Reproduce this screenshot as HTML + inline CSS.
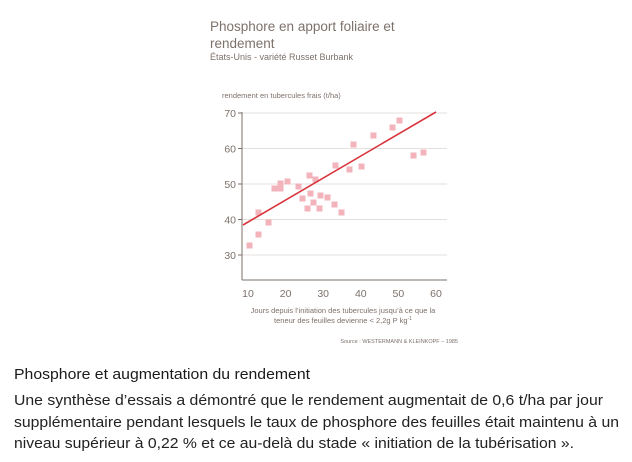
<!DOCTYPE html>
<html><head><meta charset="utf-8"><style>
html,body{margin:0;padding:0;background:#fff;width:632px;height:462px;overflow:hidden}
</style></head><body>
<svg width="632" height="462" viewBox="0 0 632 462" xmlns="http://www.w3.org/2000/svg" font-family="Liberation Sans, sans-serif">
<text x="210" y="31" font-size="13.5" fill="#7d716b">Phosphore en apport foliaire et</text>
<text x="210" y="48" font-size="13.5" fill="#7d716b">rendement</text>
<text x="210" y="60" font-size="9" fill="#7d716b">États-Unis - variété Russet Burbank</text>
<text x="222" y="98" font-size="7.5" fill="#7d716b">rendement en tubercules frais (t/ha)</text>
<g stroke="#e4e0de" stroke-width="1">
<line x1="242" y1="113" x2="447" y2="113"/><line x1="242" y1="148.5" x2="447" y2="148.5"/>
<line x1="242" y1="184" x2="447" y2="184"/><line x1="242" y1="219.5" x2="447" y2="219.5"/>
<line x1="242" y1="255" x2="447" y2="255"/>
</g>
<g stroke="#7d716b" stroke-width="1">
<line x1="242" y1="112" x2="242" y2="280"/><line x1="242" y1="280" x2="447" y2="280"/>
<line x1="238" y1="113" x2="242" y2="113"/><line x1="238" y1="148.5" x2="242" y2="148.5"/>
<line x1="238" y1="184" x2="242" y2="184"/><line x1="238" y1="219.5" x2="242" y2="219.5"/>
<line x1="238" y1="255" x2="242" y2="255"/>
</g>
<g font-size="10.5" fill="#7d716b" text-anchor="end">
<text x="236" y="117">70</text><text x="236" y="152.5">60</text><text x="236" y="188">50</text><text x="236" y="223.5">40</text><text x="236" y="259">30</text>
</g>
<g font-size="10.5" fill="#7d716b" text-anchor="middle">
<text x="248" y="297">10</text><text x="285.6" y="297">20</text><text x="323.2" y="297">30</text><text x="360.8" y="297">40</text><text x="398.4" y="297">50</text><text x="436" y="297">60</text>
</g>
<text x="343" y="313" font-size="7.5" fill="#7d716b" text-anchor="middle">Jours depuis l’initiation des tubercules jusqu’à ce que la</text>
<text x="343" y="323" font-size="7.5" fill="#7d716b" text-anchor="middle">teneur des feuilles devienne &lt; 2,2g P kg<tspan font-size="5" dy="-3">-1</tspan></text>
<text x="458" y="343" font-size="5.5" fill="#7d716b" text-anchor="end">Source : WESTERMANN &amp; KLEINKOPF – 1985</text>
<g fill="#f2b3bb">
<rect x="246.5" y="242.5" width="6" height="6"/><rect x="255.5" y="231.5" width="6" height="6"/><rect x="255.5" y="209.5" width="6" height="6"/><rect x="265.5" y="219.5" width="6" height="6"/><rect x="271.5" y="185.5" width="6" height="6"/><rect x="277.5" y="180.5" width="6" height="6"/><rect x="277.5" y="185.5" width="6" height="6"/><rect x="284.5" y="178.5" width="6" height="6"/><rect x="295.5" y="183.5" width="6" height="6"/><rect x="299.5" y="195.5" width="6" height="6"/><rect x="304.5" y="205.5" width="6" height="6"/><rect x="306.5" y="172.5" width="6" height="6"/><rect x="307.5" y="190.5" width="6" height="6"/><rect x="310.5" y="199.5" width="6" height="6"/><rect x="312.5" y="176.5" width="6" height="6"/><rect x="316.5" y="205.5" width="6" height="6"/><rect x="317.5" y="192.5" width="6" height="6"/><rect x="324.5" y="194.5" width="6" height="6"/><rect x="331.5" y="201.5" width="6" height="6"/><rect x="332.5" y="162.5" width="6" height="6"/><rect x="338.5" y="209.5" width="6" height="6"/><rect x="346.5" y="166.5" width="6" height="6"/><rect x="350.5" y="141.5" width="6" height="6"/><rect x="358.5" y="163.5" width="6" height="6"/><rect x="370.5" y="132.5" width="6" height="6"/><rect x="389.5" y="124.5" width="6" height="6"/><rect x="396.5" y="117.5" width="6" height="6"/><rect x="410.5" y="152.5" width="6" height="6"/><rect x="420.5" y="149.5" width="6" height="6"/>
</g>
<line x1="243" y1="225" x2="436" y2="112" stroke="#d9343c" stroke-width="1.6"/>
<text x="14" y="379" font-size="15" fill="#1a1a1a" textLength="296" lengthAdjust="spacingAndGlyphs">Phosphore et augmentation du rendement</text>
<text x="14" y="405" font-size="15" fill="#222" textLength="589" lengthAdjust="spacingAndGlyphs">Une synthèse d’essais a démontré que le rendement augmentait de 0,6 t/ha par jour</text>
<text x="14" y="427" font-size="15" fill="#222" textLength="605" lengthAdjust="spacingAndGlyphs">supplémentaire pendant lesquels le taux de phosphore des feuilles était maintenu à un</text>
<text x="14" y="448" font-size="15" fill="#222" textLength="560" lengthAdjust="spacingAndGlyphs">niveau supérieur à 0,22 % et ce au-delà du stade « initiation de la tubérisation ».</text>
</svg>
</body></html>
